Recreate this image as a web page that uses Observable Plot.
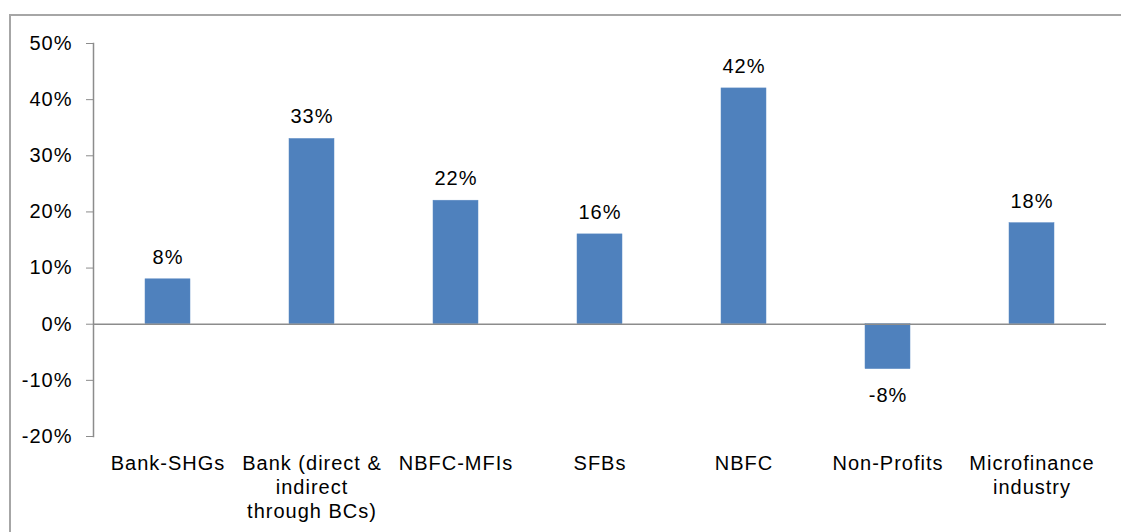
<!DOCTYPE html>
<html>
<head>
<meta charset="utf-8">
<script src="https://cdn.jsdelivr.net/npm/d3@7"></script>
<script src="https://cdn.jsdelivr.net/npm/@observablehq/plot@0.6"></script>
<style>
  html, body { margin: 0; padding: 0; background: #fff; }
  #wrap { position: relative; width: 1121px; height: 532px; overflow: hidden; }
  #border { position: absolute; left: 9px; top: 14px; right: -4px; bottom: -4px;
            border-left: 2px solid #a6a6a6; border-top: 2px solid #a6a6a6; }
  #chart { position: absolute; left: 0; top: 0; }
  #chart svg { font-family: "Liberation Sans", Arial, sans-serif; letter-spacing: 1px; }
</style>
</head>
<body>
<div id="wrap"><div id="border"></div><div id="chart"></div></div>
<script>
// Growth by lender type (%)
const categories = ["Bank-SHGs", "Bank (direct & indirect through BCs)", "NBFC-MFIs", "SFBs", "NBFC", "Non-Profits", "Microfinance industry"];
const tickLabels = ["Bank-SHGs", "Bank (direct &\nindirect\nthrough BCs)", "NBFC-MFIs", "SFBs", "NBFC", "Non-Profits", "Microfinance\nindustry"];
const growth = [8, 33, 22, 16, 42, -8, 18];
const yTicks = [-20, -10, 0, 10, 20, 30, 40, 50];

const data = categories.map((c, i) => ({category: c, value: growth[i]}));
const labelOf = new Map(categories.map((c, i) => [c, tickLabels[i]]));
const pct = d => `${d}%`;

const chart = Plot.plot({
  width: 1121,
  height: 532,
  marginLeft: 93,
  marginRight: 15,
  marginTop: 43,
  marginBottom: 96,
  style: {fontSize: "20px", color: "#000", background: "transparent"},
  x: {domain: categories, paddingInner: 0.686, paddingOuter: 0.343, align: 0.5},
  y: {domain: [-20, 50]},
  marks: [
    Plot.barY(data, {x: "category", y: "value", fill: "#4f81bd", stroke: "#5b8ac4", strokeWidth: 0.5}),
    Plot.ruleY([0], {stroke: "#8c8c8c", strokeWidth: 1.5}),
    Plot.frame({anchor: "left", stroke: "#8c8c8c", strokeWidth: 1.5}),
    Plot.axisY({ticks: yTicks, tickFormat: pct, tickSize: 7, tickPadding: 14, stroke: "#8c8c8c", fill: "#000", label: null}),
    Plot.axisX({tickFormat: d => labelOf.get(d), tickSize: 0, tickPadding: 16, lineHeight: 1.2, fill: "#000", label: null}),
    Plot.text(data.filter(d => d.value >= 0), {x: "category", y: "value", text: d => pct(d.value), dy: -22, fill: "#000"}),
    Plot.text(data.filter(d => d.value < 0), {x: "category", y: "value", text: d => pct(d.value), dy: 26, fill: "#000"})
  ]
});
document.getElementById("chart").append(chart);
</script>
</body>
</html>
